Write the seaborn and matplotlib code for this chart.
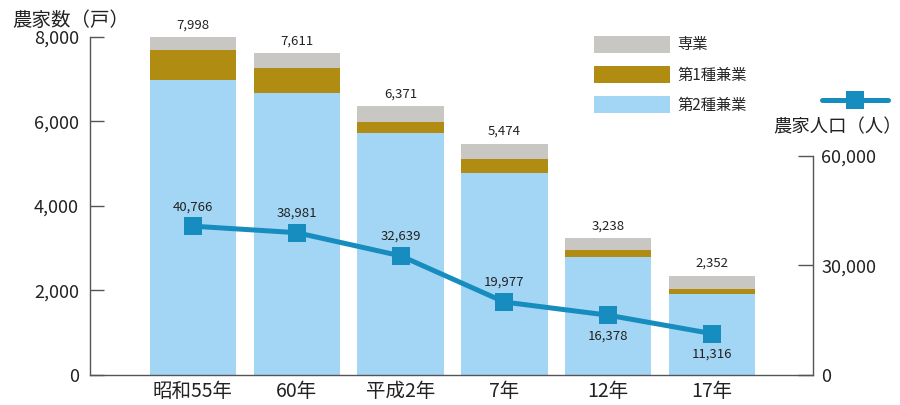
import numpy as np
import pandas as pd
import matplotlib
matplotlib.use("Agg")
import matplotlib.pyplot as plt
import seaborn as sns
from matplotlib.patches import Patch
from matplotlib.lines import Line2D

# --- data ---------------------------------------------------------------
years = ["昭和55年", "60年", "平成2年", "7年", "12年", "17年"]
total_farms = [7998, 7611, 6371, 5474, 3238, 2352]          # 農家数 合計
second_kengyo = [6980, 6680, 5735, 4774, 2785, 1917]        # 第2種兼業
first_kengyo = [710, 586, 261, 338, 174, 119]               # 第1種兼業
farm_population = [40766, 38981, 32639, 19977, 16378, 11316]  # 農家人口
left_ticks = [0, 2000, 4000, 6000, 8000]
right_ticks = [0, 30000, 60000]

# --- styling ------------------------------------------------------------
sns.set_theme(style="white")
plt.rcParams["font.family"] = ["Noto Sans CJK JP", "DejaVu Sans"]

C_SENGYO = "#c9c7c4"
C_FIRST = "#b08c12"
C_SECOND = "#a3d6f4"
C_LINE = "#178cbf"
C_AXIS = "#555555"
C_TEXT = "#222222"

df = pd.DataFrame({
    "year": years,
    "total": total_farms,
    "kengyo": np.array(second_kengyo) + np.array(first_kengyo),
    "second": second_kengyo,
})

fig = plt.figure(figsize=(9, 4.05), dpi=100)
ax = fig.add_axes([90 / 900, 30 / 405, 723 / 900, 355 / 405])

# stacked bars: draw cumulative layers from the top down
bar_kw = dict(x="year", width=0.83, saturation=1, linewidth=0, ax=ax)
sns.barplot(data=df, y="total", color=C_SENGYO, **bar_kw)
sns.barplot(data=df, y="kengyo", color=C_FIRST, **bar_kw)
sns.barplot(data=df, y="second", color=C_SECOND, **bar_kw)

ax.bar_label(ax.containers[0], labels=[f"{v:,}" for v in total_farms],
             padding=4, fontsize=9.5, color=C_TEXT)

left_top = 8400
ax.set_ylim(0, left_top)
ax.set_xlim(-0.99, 5.97)
ax.set_yticks(left_ticks)
ax.set_yticklabels([f"{v:,}" for v in left_ticks])
ax.set_xlabel("")
ax.set_ylabel("")
ax.tick_params(axis="y", left=True, direction="in", length=10, width=1,
               color=C_AXIS, labelsize=13, pad=8, labelcolor=C_TEXT)
ax.tick_params(axis="x", bottom=True, direction="in", length=13, width=1,
               color=C_AXIS, labelsize=14, pad=4, labelcolor=C_TEXT)
for side in ("top", "right"):
    ax.spines[side].set_visible(False)
for side in ("left", "bottom"):
    ax.spines[side].set_color(C_AXIS)
    ax.spines[side].set_linewidth(1)
ax.spines["left"].set_bounds(0, 8000)

# population line on the secondary axis
ax2 = ax.twinx()
x_pos = np.arange(len(years))
sns.lineplot(x=x_pos, y=farm_population, ax=ax2, color=C_LINE, lw=3.6,
             marker="s", markersize=12.5, markeredgewidth=0, sort=False)
ax2.set_ylim(0, left_top * 42.25 / 3.65)
ax2.set_xlim(-0.99, 5.97)
ax2.set_yticks(right_ticks)
ax2.set_yticklabels([f"{v:,}" for v in right_ticks])
ax2.set_ylabel("")
ax2.tick_params(axis="y", right=True, direction="in", length=11, width=1,
                color=C_AXIS, labelsize=13, pad=6, labelcolor=C_TEXT)
for side in ("top", "left", "bottom"):
    ax2.spines[side].set_visible(False)
ax2.spines["right"].set_color(C_AXIS)
ax2.spines["right"].set_linewidth(1)
ax2.spines["right"].set_bounds(0, 60000)

label_above = [True, True, True, True, False, False]
for xi, v, above in zip(x_pos, farm_population, label_above):
    ax2.annotate(f"{v:,}", (xi, v), xytext=(0, 14 if above else -15),
                 textcoords="offset points", ha="center", va="center",
                 fontsize=9.5, color=C_TEXT)

# legends
handles = [Patch(color=C_SENGYO, lw=0), Patch(color=C_FIRST, lw=0),
           Patch(color=C_SECOND, lw=0)]
ax.legend(handles, ["専業", "第1種兼業", "第2種兼業"], loc="upper left",
          bbox_to_anchor=(594 / 900, 1 - 36 / 405), bbox_transform=fig.transFigure,
          frameon=False, fontsize=11, handlelength=5.0, handleheight=1.3,
          handletextpad=0.45, labelspacing=0.83, borderpad=0, borderaxespad=0)

line_handle = Line2D([], [], color=C_LINE, lw=3.6, marker="s", markersize=12.5,
                     markeredgewidth=0)
fig.legend([line_handle], [""], loc="center",
           bbox_to_anchor=(855 / 900, 1 - 101 / 405), frameon=False,
           fontsize=11, handlelength=4.3, handletextpad=0, borderpad=0)

fig.text(12 / 900, 1 - 20 / 405, "農家数（戸）", ha="left", va="center",
         fontsize=14, color=C_TEXT)
fig.text(773 / 900, 1 - 127 / 405, "農家人口（人）", ha="left", va="center",
         fontsize=13.2, color=C_TEXT)

fig.savefig("out.png", dpi=100, facecolor="white")
